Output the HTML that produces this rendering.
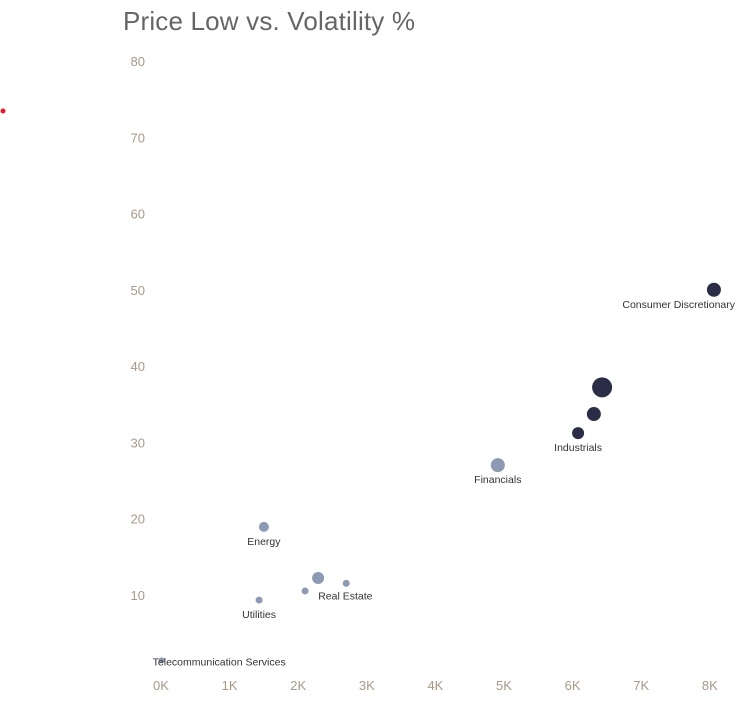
<!DOCTYPE html>
<html><head><meta charset="utf-8"><style>
body{margin:0;background:#fff;width:750px;height:710px;overflow:hidden;font-family:"Liberation Sans",sans-serif}
svg text{font-family:"Liberation Sans",sans-serif}
</style></head><body>
<svg width="750" height="710">
<text x="123" y="30" font-size="26" fill="#666" textLength="292">Price Low vs. Volatility %</text>
<circle cx="3" cy="111" r="2.5" fill="#e8192c"/>
<g id="yaxis"></g><g id="xaxis"></g><g id="marks"></g>
</svg>
<script>
const labels=["Consumer Discretionary","","","Industrials","Financials","Energy","","","Real Estate","Utilities","Telecommunication Services"];
const priceLowK=[8.06,6.43,6.31,6.08,4.91,1.50,2.29,2.10,2.70,1.43,0.01];
const volatility=[50.0,37.2,33.7,31.2,27.0,18.9,12.2,10.5,11.5,9.3,1.4];
const sizes=[7,10,7,6,7,5,6,3.5,3.5,3.5,3];
const groups=[1,1,1,1,0,0,0,0,0,0,0];
const yTicks=[10,20,30,40,50,60,70,80];
const xTicks=[0,1,2,3,4,5,6,7,8];
const x=v=>161+v*68.6, y=v=>671-v*7.625;
const ns="http://www.w3.org/2000/svg";
function mk(t,a,p){const e=document.createElementNS(ns,t);for(const k in a)e.setAttribute(k,a[k]);p.appendChild(e);return e;}
const ya=document.getElementById('yaxis'),xa=document.getElementById('xaxis'),m=document.getElementById('marks');
yTicks.forEach(v=>{const t=mk('text',{x:145,y:y(v)+5,'font-size':13,fill:'#a8998a','text-anchor':'end'},ya);t.textContent=v;

});
xTicks.forEach(v=>{const t=mk('text',{x:x(v),y:690,'font-size':13,fill:'#a8998a','text-anchor':'middle'},xa);t.textContent=v+'K';

});
priceLowK.forEach((v,i)=>{const c=mk('circle',{cx:x(v),cy:y(volatility[i]),r:sizes[i],fill:groups[i]?'#2a2d45':'#8e9ab3'},m);


const L=labels[i];
if(L){let lx=x(v),ly=y(volatility[i])+18,anc='middle';
if(L=="Real Estate"){lx=x(v)-28;ly=y(volatility[i])+16;anc='start';}
else if(L.startsWith("Tele")){lx=x(v)-9;ly=y(volatility[i])+5;anc='start';}
else if(L.startsWith("Consumer")){lx=735;anc='end';}
const t=mk('text',{x:lx,y:ly,'font-size':10.5,fill:'#333','text-anchor':anc},m);
t.textContent=L;

}});
</script>
</body></html>
